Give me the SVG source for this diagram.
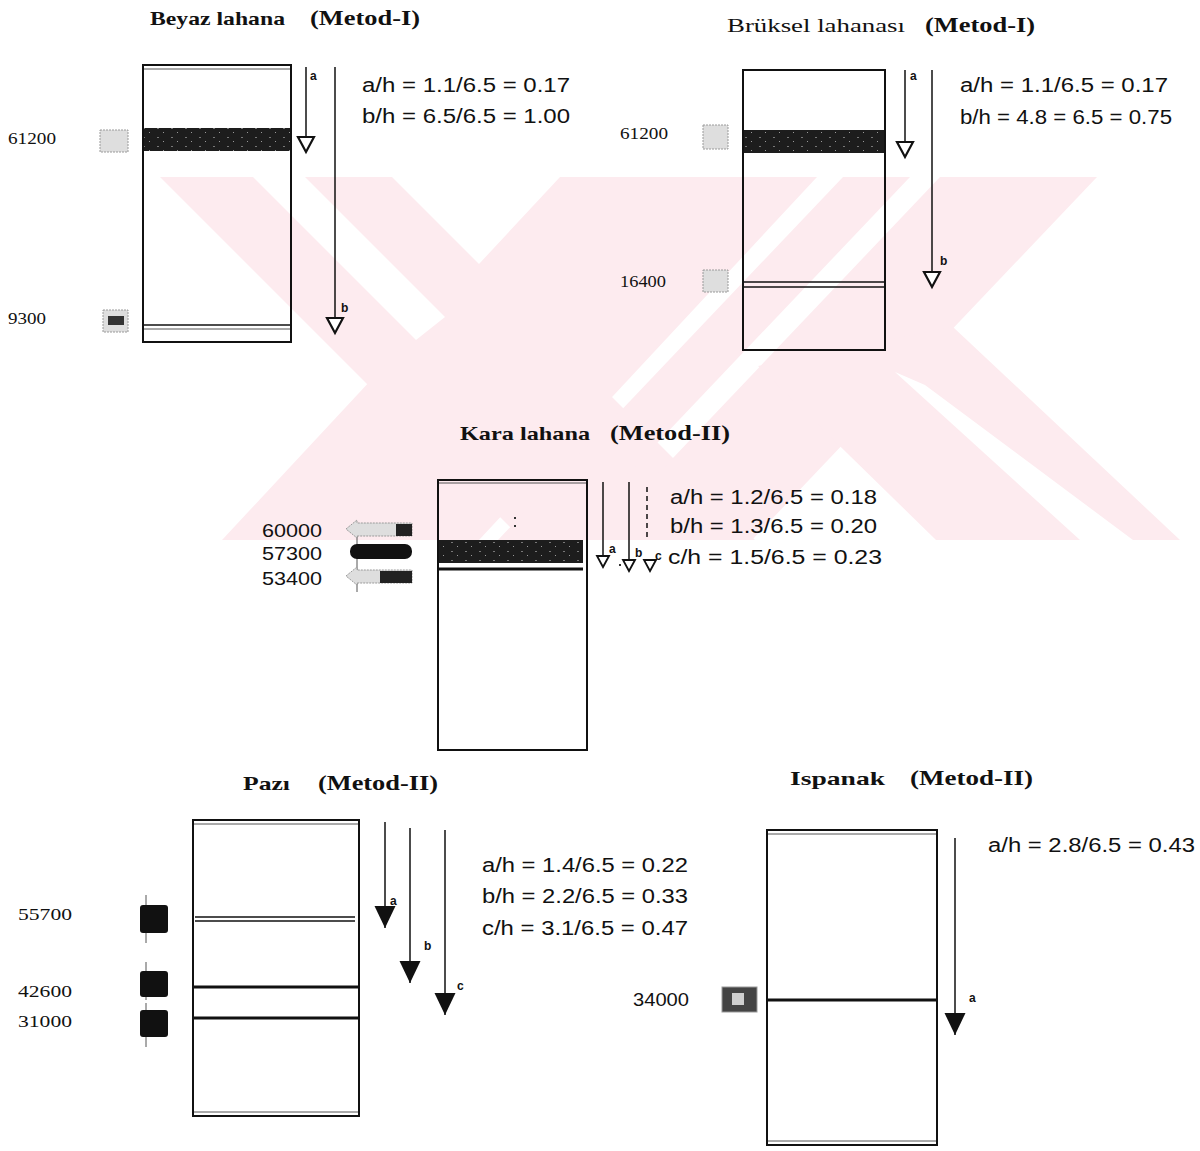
<svg xmlns="http://www.w3.org/2000/svg" width="1200" height="1151" viewBox="0 0 1200 1151">
<defs>
<style>
.title{font-family:"Liberation Serif",serif;font-weight:bold;font-size:19px;fill:#111}
.titlen{font-family:"Liberation Serif",serif;font-size:19px;fill:#111}
.met{font-family:"Liberation Serif",serif;font-weight:bold;font-size:21px;fill:#111}
.eq{font-family:"Liberation Sans",sans-serif;font-size:20px;fill:#111}
.num{font-family:"Liberation Serif",serif;font-size:16px;fill:#111}
.nums{font-family:"Liberation Sans",sans-serif;font-size:19px;fill:#111}
.lbl{font-family:"Liberation Sans",sans-serif;font-weight:bold;font-size:12px;fill:#111}
.box{fill:#fff;fill-opacity:0;stroke:#111;stroke-width:2}
.ln{stroke:#111;stroke-width:1.5;fill:none}
.thk{stroke:#111;stroke-width:3;fill:none}
.thin{stroke:#555;stroke-width:1;fill:none}
.wm{fill:#fdebef}
.gap{fill:#fff}
.band{fill:url(#speck)}
.gmark{fill:#dedede;stroke:#9a9a9a;stroke-width:1;stroke-dasharray:2 1}
.bmark{fill:#111}
.arr{stroke:#111;stroke-width:1.5;fill:none}
</style>
<pattern id="speck" width="14" height="9" patternUnits="userSpaceOnUse">
<rect width="14" height="9" fill="#1d1d1d"/>
<rect x="3" y="2" width="2" height="1" fill="#777"/>
<rect x="9" y="6" width="1" height="1" fill="#999"/>
</pattern>
<clipPath id="wmclip"><rect x="0" y="177" width="1200" height="363"/></clipPath>
<marker id="open" markerUnits="userSpaceOnUse" viewBox="-2 -2 20 20" markerWidth="20" markerHeight="20" refX="15" refY="8" orient="auto">
<path d="M0,0 L15,8 L0,16 z" fill="#fff" stroke="#111" stroke-width="2.2"/>
</marker>
<marker id="opens" markerUnits="userSpaceOnUse" viewBox="-2 -2 16 16" markerWidth="16" markerHeight="16" refX="11" refY="6" orient="auto">
<path d="M0,0 L11,6 L0,12 z" fill="#fff" stroke="#111" stroke-width="1.8"/>
</marker>
<marker id="fill" markerUnits="userSpaceOnUse" viewBox="-1 -1 25 24" markerWidth="25" markerHeight="24" refX="22" refY="10.5" orient="auto">
<path d="M0,0 L22,10.5 L0,21 z" fill="#111"/>
</marker>
</defs>
<rect width="1200" height="1151" fill="#fff"/>

<g id="watermark" clip-path="url(#wmclip)">
<polygon class="wm" points="160,177 392,177 755,540 523,540"/>
<polygon class="wm" points="560,177 817,177 479,540 222,540"/>
<polygon class="wm" points="843,177 910,177 565,540 498,540"/>
<polygon class="wm" points="940,177 1097,177 752,540 595,540"/>
<polygon class="wm" points="758,366 953,327 1180,540 936,540"/>
<polygon class="gap" points="253,177 305,177 445,317 416,340"/>
<polygon class="gap" points="895,372 925,385 1133,540 1080,540"/>
</g>

<g id="beyaz-lahana">
<text class="title" x="150" y="25" textLength="135" lengthAdjust="spacingAndGlyphs">Beyaz lahana</text>
<text class="met" x="310" y="25" textLength="110" lengthAdjust="spacingAndGlyphs">(Metod-I)</text>
<rect class="band" x="143" y="128" width="148" height="23"/>
<rect class="box" x="143" y="65" width="148" height="277"/>
<line class="thin" x1="144" y1="69" x2="290" y2="69"/>
<line class="ln" x1="144" y1="325" x2="290" y2="325"/>
<line class="thin" x1="144" y1="329" x2="290" y2="329"/>
<rect class="gmark" x="100" y="130" width="28" height="22"/>
<rect class="gmark" x="103" y="310" width="25" height="22"/>
<rect x="108" y="316" width="16" height="9" fill="#333"/>
<text class="num" x="8" y="144" textLength="48" lengthAdjust="spacingAndGlyphs">61200</text>
<text class="num" x="8" y="324" textLength="38" lengthAdjust="spacingAndGlyphs">9300</text>
<text class="eq" x="362" y="92" textLength="208" lengthAdjust="spacingAndGlyphs">a/h = 1.1/6.5 = 0.17</text>
<text class="eq" x="362" y="123" textLength="208" lengthAdjust="spacingAndGlyphs">b/h = 6.5/6.5 = 1.00</text>
</g>

<g id="bruksel-lahanasi">
<text class="titlen" x="727" y="32" textLength="178" lengthAdjust="spacingAndGlyphs">Brüksel lahanası</text>
<text class="met" x="925" y="32" textLength="110" lengthAdjust="spacingAndGlyphs">(Metod-I)</text>
<rect class="band" x="743" y="130" width="142" height="23"/>
<rect class="box" x="743" y="70" width="142" height="280"/>
<line class="ln" x1="744" y1="282" x2="884" y2="282"/>
<line class="ln" x1="744" y1="287" x2="884" y2="287"/>
<rect class="gmark" x="703" y="125" width="25" height="24"/>
<rect class="gmark" x="703" y="270" width="25" height="22"/>
<text class="num" x="620" y="139" textLength="48" lengthAdjust="spacingAndGlyphs">61200</text>
<text class="num" x="620" y="287" textLength="46" lengthAdjust="spacingAndGlyphs">16400</text>
<text class="eq" x="960" y="92" textLength="208" lengthAdjust="spacingAndGlyphs">a/h = 1.1/6.5 = 0.17</text>
<text class="eq" x="960" y="124" textLength="212" lengthAdjust="spacingAndGlyphs">b/h = 4.8 = 6.5 = 0.75</text>
</g>

<g id="kara-lahana">
<text class="title" x="460" y="440" textLength="130" lengthAdjust="spacingAndGlyphs">Kara lahana</text>
<text class="met" x="610" y="440" textLength="120" lengthAdjust="spacingAndGlyphs">(Metod-II)</text>
<rect class="band" x="438" y="540" width="145" height="23"/>
<rect class="box" x="438" y="480" width="149" height="270"/>
<line class="thin" x1="439" y1="483" x2="586" y2="483"/>
<line class="thk" x1="439" y1="569" x2="583" y2="569"/>
<rect x="514" y="517" width="2" height="2" fill="#333"/>
<rect x="514" y="525" width="2" height="2" fill="#333"/>
<line class="thin" x1="357" y1="535" x2="357" y2="592"/>
<path class="gmark" d="M346,529 L357,520 L357,523 L412,523 L412,536 L357,536 L357,538 Z"/>
<rect x="396" y="524" width="16" height="12" fill="#222"/>
<rect class="bmark" x="350" y="544" width="62" height="15" rx="7"/>
<path class="gmark" d="M346,576 L357,567 L357,570 L412,570 L412,583 L357,583 L357,585 Z"/>
<rect x="380" y="571" width="32" height="12" fill="#222"/>
<text class="nums" x="262" y="537" textLength="60" lengthAdjust="spacingAndGlyphs">60000</text>
<text class="nums" x="262" y="560" textLength="60" lengthAdjust="spacingAndGlyphs">57300</text>
<text class="nums" x="262" y="585" textLength="60" lengthAdjust="spacingAndGlyphs">53400</text>
<text class="eq" x="670" y="504" textLength="207" lengthAdjust="spacingAndGlyphs">a/h = 1.2/6.5 = 0.18</text>
<text class="eq" x="670" y="533" textLength="207" lengthAdjust="spacingAndGlyphs">b/h = 1.3/6.5 = 0.20</text>
<text class="eq" x="668" y="564" textLength="214" lengthAdjust="spacingAndGlyphs">c/h  = 1.5/6.5 = 0.23</text>
</g>

<g id="pazi">
<text class="title" x="243" y="790" textLength="47" lengthAdjust="spacingAndGlyphs">Pazı</text>
<text class="met" x="318" y="790" textLength="120" lengthAdjust="spacingAndGlyphs">(Metod-II)</text>
<rect class="box" x="193" y="820" width="166" height="296"/>
<line class="thin" x1="194" y1="824" x2="358" y2="824"/>
<line class="thin" x1="194" y1="1112" x2="358" y2="1112"/>
<line class="ln" x1="195" y1="917" x2="355" y2="917"/>
<line class="ln" x1="195" y1="921" x2="355" y2="921"/>
<line class="thk" x1="194" y1="987" x2="359" y2="987"/>
<line class="thk" x1="194" y1="1018" x2="359" y2="1018"/>
<line class="thin" x1="146" y1="895" x2="146" y2="943"/>
<line class="thin" x1="146" y1="962" x2="146" y2="1000"/>
<line class="thin" x1="146" y1="1003" x2="146" y2="1047"/>
<rect class="bmark" x="140" y="905" width="28" height="28" rx="3"/>
<rect class="bmark" x="140" y="971" width="28" height="26" rx="3"/>
<rect class="bmark" x="140" y="1010" width="28" height="27" rx="3"/>
<text class="num" x="18" y="920" textLength="54" lengthAdjust="spacingAndGlyphs">55700</text>
<text class="num" x="18" y="997" textLength="54" lengthAdjust="spacingAndGlyphs">42600</text>
<text class="num" x="18" y="1027" textLength="54" lengthAdjust="spacingAndGlyphs">31000</text>
<text class="eq" x="482" y="872" textLength="206" lengthAdjust="spacingAndGlyphs">a/h = 1.4/6.5 = 0.22</text>
<text class="eq" x="482" y="903" textLength="206" lengthAdjust="spacingAndGlyphs">b/h = 2.2/6.5 = 0.33</text>
<text class="eq" x="482" y="935" textLength="206" lengthAdjust="spacingAndGlyphs">c/h = 3.1/6.5 = 0.47</text>
</g>

<g id="ispanak">
<text class="title" x="790" y="785" textLength="95" lengthAdjust="spacingAndGlyphs">Ispanak</text>
<text class="met" x="910" y="785" textLength="123" lengthAdjust="spacingAndGlyphs">(Metod-II)</text>
<rect class="box" x="767" y="830" width="170" height="315"/>
<line class="thin" x1="768" y1="834" x2="936" y2="834"/>
<line class="thin" x1="768" y1="1141" x2="936" y2="1141"/>
<line class="thk" x1="768" y1="1000" x2="936" y2="1000"/>
<rect x="722" y="987" width="35" height="25" fill="#444" stroke="#999" stroke-width="1"/>
<rect x="732" y="993" width="12" height="12" fill="#cfcfcf"/>
<text class="nums" x="633" y="1006" textLength="56" lengthAdjust="spacingAndGlyphs">34000</text>
<text class="eq" x="988" y="852" textLength="207" lengthAdjust="spacingAndGlyphs">a/h = 2.8/6.5 = 0.43</text>
</g>

<g id="connectors">
<line class="arr" x1="306" y1="67" x2="306" y2="152" marker-end="url(#open)"/>
<line class="arr" x1="335" y1="67" x2="335" y2="333" marker-end="url(#open)"/>
<line class="arr" x1="905" y1="70" x2="905" y2="157" marker-end="url(#open)"/>
<line class="arr" x1="932" y1="70" x2="932" y2="287" marker-end="url(#open)"/>
<line class="arr" x1="603" y1="482" x2="603" y2="567" marker-end="url(#opens)"/>
<line class="arr" x1="629" y1="482" x2="629" y2="571" marker-end="url(#opens)"/>
<line class="arr" x1="647" y1="487" x2="647" y2="540" stroke-dasharray="5 4" stroke-width="1"/>
<line class="arr" x1="650" y1="560" x2="650" y2="571" stroke-width="0" marker-end="url(#opens)"/>
<line class="arr" x1="385" y1="822" x2="385" y2="928" marker-end="url(#fill)"/>
<line class="arr" x1="410" y1="828" x2="410" y2="983" marker-end="url(#fill)"/>
<line class="arr" x1="445" y1="830" x2="445" y2="1015" marker-end="url(#fill)"/>
<line class="arr" x1="955" y1="838" x2="955" y2="1035" marker-end="url(#fill)"/>
<text class="lbl" x="310" y="80">a</text>
<text class="lbl" x="341" y="312">b</text>
<text class="lbl" x="910" y="80">a</text>
<text class="lbl" x="940" y="265">b</text>
<text class="lbl" x="609" y="553">a</text>
<text class="lbl" x="635" y="557">b</text>
<text class="lbl" x="655" y="560">c</text>
<rect x="619" y="564" width="2" height="2" fill="#333"/>
<text class="lbl" x="390" y="905">a</text>
<text class="lbl" x="424" y="950">b</text>
<text class="lbl" x="457" y="990">c</text>
<text class="lbl" x="969" y="1002">a</text>
</g>
</svg>
